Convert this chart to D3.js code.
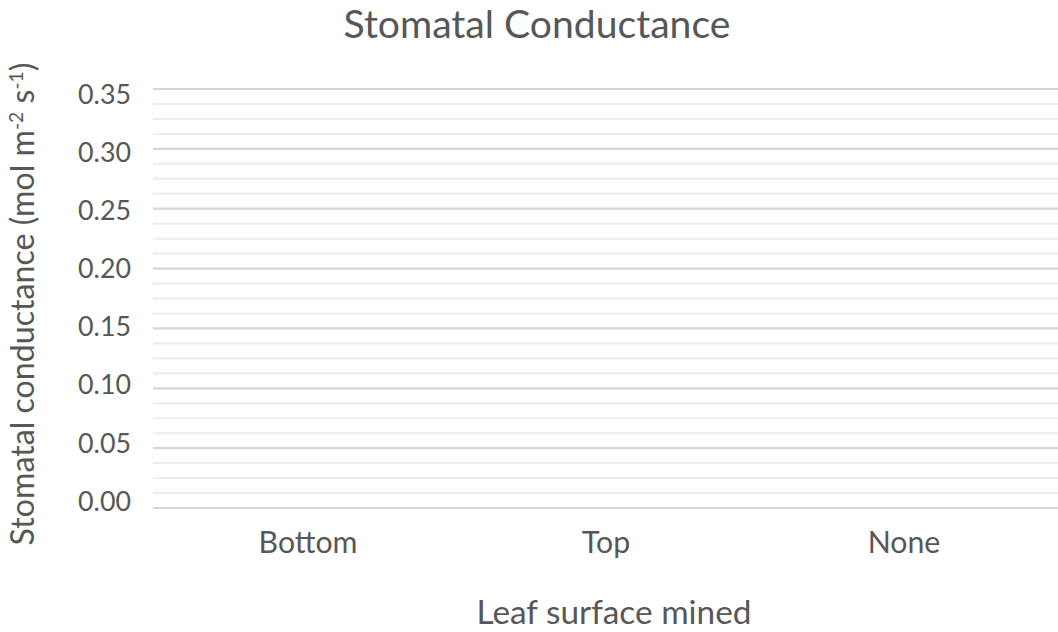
<!DOCTYPE html>
<html><head><meta charset="utf-8">
<script src="https://cdn.jsdelivr.net/npm/d3@7"></script>
<style>html,body{margin:0;padding:0;background:#fff;}svg{display:block;}</style>
</head><body>
<svg id="c" width="1058" height="632"></svg>
<script>
// Data
const categories = ["Bottom", "Top", "None"];
const values = [null, null, null]; // no bars shown in the reference
const yTicks = [0, 0.05, 0.10, 0.15, 0.20, 0.25, 0.30, 0.35];
const yMinorStep = 0.0125;
const title = "Stomatal Conductance";
const xTitle = "Leaf surface mined";

const W = 1058, H = 632;
const m = {left: 153, right: 0, top: 89, bottom: 124};
const svg = d3.select("#c");
const font = "Lato, 'Open Sans', sans-serif";
const col = "#575757";

const x = d3.scaleBand().domain(categories).range([159, 1053]);
const y = d3.scaleLinear().domain([0, 0.35]).range([H - m.bottom, m.top]);
// label placement scale (labels sit slightly compressed vs gridlines in reference)
const yl = d3.scaleLinear().domain([0, 0.35]).range([501, 94]);

function fit(sel, target) {
  const w = sel.node().getComputedTextLength();
  const fs = parseFloat(sel.attr("font-size"));
  sel.attr("font-size", fs * target / w);
}

// minor gridlines
const minor = d3.range(0, 0.35 + 1e-9, yMinorStep).filter(v => Math.abs(v / 0.05 - Math.round(v / 0.05)) > 1e-6);
svg.append("g").selectAll("line").data(minor).join("line")
  .attr("x1", m.left).attr("x2", W - m.right)
  .attr("y1", d => y(d)).attr("y2", d => y(d))
  .attr("stroke", "#ececec").attr("stroke-width", 2);
// major gridlines
svg.append("g").selectAll("line").data(yTicks).join("line")
  .attr("x1", m.left).attr("x2", W - m.right)
  .attr("y1", d => y(d)).attr("y2", d => y(d))
  .attr("stroke", "#d6d6d6").attr("stroke-width", 2.2);

// bars (none in reference)
svg.append("g").selectAll("rect").data(categories.map((c, i) => ({c, v: values[i]})).filter(d => d.v != null))
  .join("rect").attr("x", d => x(d.c) + x.bandwidth() * 0.2).attr("width", x.bandwidth() * 0.6)
  .attr("y", d => y(d.v)).attr("height", d => y(0) - y(d.v)).attr("fill", "#4472c4");

// y tick labels
const fmt = d3.format(".2f");
svg.append("g").selectAll("text").data(yTicks).join("text")
  .attr("x", 131).attr("y", d => yl(d)).attr("dy", "0.36em")
  .attr("text-anchor", "end").attr("font-family", font).attr("font-size", 24)
  .attr("fill", col).text(d => fmt(d))
  .each(function(){ fit(d3.select(this), 53); });

// x tick labels
const xl = svg.append("g").selectAll("text").data(categories).join("text")
  .attr("x", d => x(d) + x.bandwidth() / 2).attr("y", 553)
  .attr("text-anchor", "middle").attr("font-family", font).attr("font-size", 26)
  .attr("fill", col).text(d => d);
fit(xl.filter(d => d === "Bottom"), 99);
xl.attr("font-size", xl.filter(d => d === "Bottom").attr("font-size"));

// title
const t = svg.append("text").attr("x", 537).attr("y", 38).attr("text-anchor", "middle")
  .attr("font-family", font).attr("font-size", 36).attr("fill", col).text(title);
fit(t, 387);

// x axis title
const xt = svg.append("text").attr("x", 614).attr("y", 624).attr("text-anchor", "middle")
  .attr("font-family", font).attr("font-size", 28).attr("fill", col).text(xTitle);
fit(xt, 275);

// y axis title with superscripts
const yt = svg.append("text").attr("transform", "translate(34,304) rotate(-90)")
  .attr("text-anchor", "middle").attr("font-family", font).attr("font-size", 26).attr("fill", col);
yt.append("tspan").text("Stomatal conductance (mol m");
yt.append("tspan").attr("baseline-shift", "super").attr("font-size", "0.6em").text("-2");
yt.append("tspan").text(" s");
yt.append("tspan").attr("baseline-shift", "super").attr("font-size", "0.6em").text("-1");
yt.append("tspan").text(")");
fit(yt, 483);
</script>
</body></html>
